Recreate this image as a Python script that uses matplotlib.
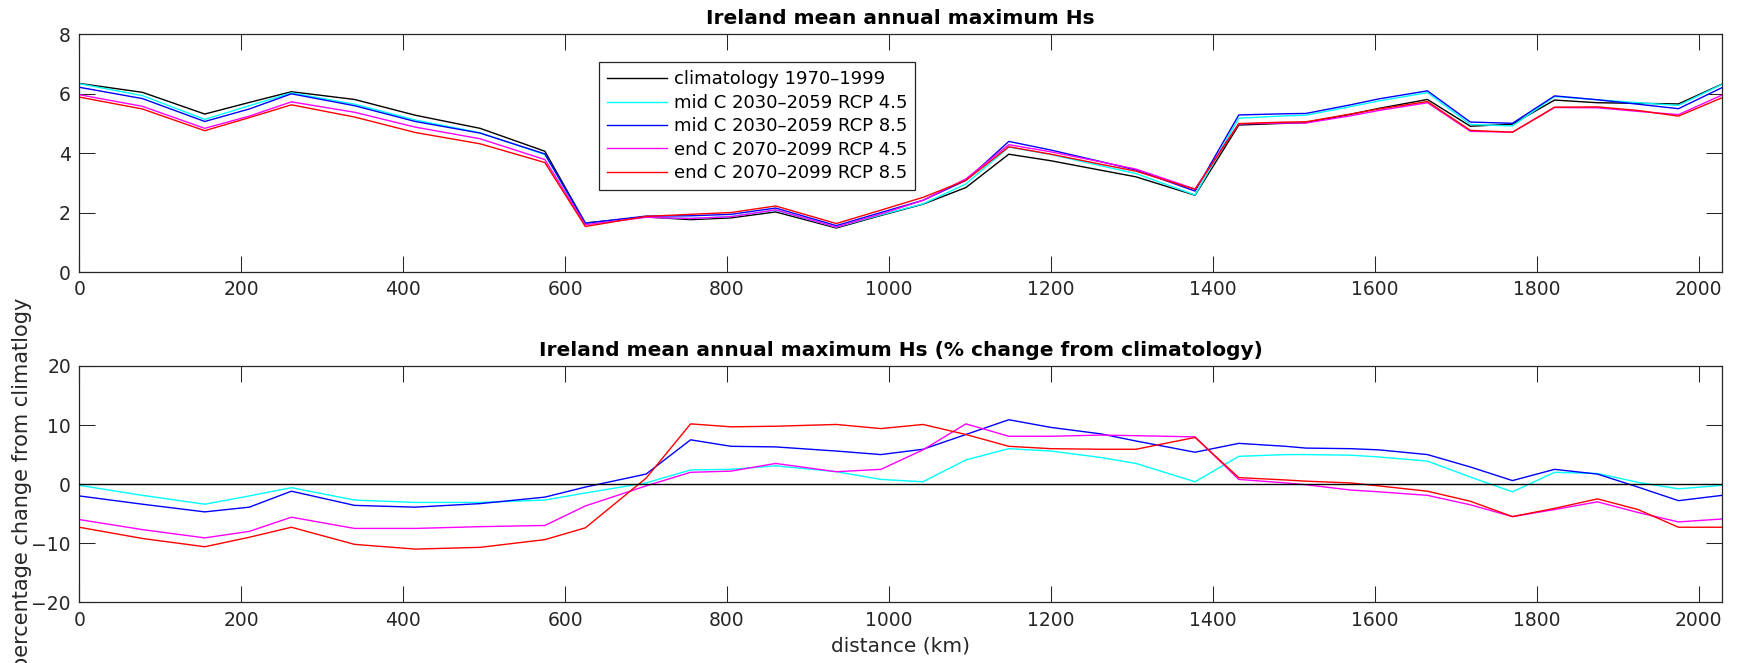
import matplotlib
matplotlib.use('Agg')
from matplotlib import pyplot as plt

# distance along the coast (km)
dist = [0, 78, 155, 210, 262, 340, 415, 495, 575, 625, 700, 755, 805, 860,
        935, 990, 1042, 1095, 1148, 1200, 1262, 1305, 1378, 1432, 1490, 1515,
        1570, 1605, 1665, 1718, 1770, 1822, 1875, 1925, 1975, 2029]

# mean annual maximum Hs (m)
hs_clim = [6.34, 6.04, 5.31, 5.70, 6.06, 5.80, 5.27, 4.83, 4.06, 1.65, 1.85, 1.76, 1.82, 2.02,
           1.48, 1.90, 2.28, 2.84, 3.96, 3.74, 3.42, 3.20, 2.58, 4.94, 5.00, 5.02,
           5.30, 5.50, 5.80, 4.90, 4.97, 5.78, 5.69, 5.67, 5.65, 6.32]
hs_mid45 = [6.33, 5.93, 5.13, 5.59, 6.02, 5.64, 5.11, 4.68, 3.95, 1.63, 1.85, 1.80, 1.87, 2.08,
            1.51, 1.92, 2.29, 2.96, 4.20, 3.95, 3.57, 3.31, 2.59, 5.17, 5.25, 5.27,
            5.56, 5.75, 6.03, 4.96, 4.91, 5.90, 5.79, 5.69, 5.60, 6.31]
hs_mid85 = [6.21, 5.83, 5.06, 5.48, 5.99, 5.59, 5.06, 4.67, 3.97, 1.64, 1.88, 1.89, 1.94, 2.15,
            1.56, 2.00, 2.41, 3.08, 4.39, 4.10, 3.71, 3.43, 2.72, 5.28, 5.32, 5.33,
            5.62, 5.82, 6.09, 5.04, 5.00, 5.92, 5.79, 5.64, 5.49, 6.20]
hs_end45 = [5.96, 5.57, 4.83, 5.24, 5.72, 5.37, 4.87, 4.48, 3.78, 1.59, 1.84, 1.80, 1.86, 2.09,
            1.51, 1.95, 2.41, 3.13, 4.28, 4.04, 3.70, 3.46, 2.79, 4.98, 5.01, 5.01,
            5.25, 5.43, 5.69, 4.73, 4.70, 5.53, 5.52, 5.40, 5.29, 5.95]
hs_end85 = [5.88, 5.48, 4.75, 5.19, 5.62, 5.21, 4.69, 4.31, 3.68, 1.53, 1.87, 1.94, 2.00, 2.22,
            1.63, 2.08, 2.51, 3.08, 4.21, 3.96, 3.62, 3.39, 2.78, 4.99, 5.04, 5.05,
            5.31, 5.48, 5.73, 4.76, 4.70, 5.54, 5.55, 5.43, 5.24, 5.86]

# % change from climatology
pc_mid45 = [-0.2, -1.9, -3.4, -2.0, -0.6, -2.7, -3.1, -3.1, -2.7, -1.5, 0.2, 2.4, 2.5, 3.1,
            2.1, 0.8, 0.4, 4.1, 6.0, 5.6, 4.5, 3.5, 0.4, 4.7, 5.0, 5.0,
            4.9, 4.6, 3.9, 1.2, -1.3, 2.0, 1.8, 0.3, -0.8, -0.2]
pc_mid85 = [-2.0, -3.4, -4.7, -3.9, -1.2, -3.6, -3.9, -3.3, -2.2, -0.5, 1.7, 7.5, 6.4, 6.3,
            5.6, 5.0, 5.9, 8.4, 10.9, 9.6, 8.5, 7.3, 5.4, 6.9, 6.4, 6.1,
            6.0, 5.8, 5.0, 2.9, 0.6, 2.5, 1.7, -0.5, -2.8, -1.9]
pc_end45 = [-6.0, -7.7, -9.1, -8.0, -5.6, -7.5, -7.5, -7.2, -7.0, -3.7, -0.3, 2.0, 2.2, 3.5,
            2.1, 2.5, 5.8, 10.2, 8.1, 8.1, 8.3, 8.2, 8.0, 0.8, 0.2, -0.1,
            -1.0, -1.3, -1.9, -3.5, -5.5, -4.3, -3.0, -4.8, -6.4, -5.9]
pc_end85 = [-7.3, -9.2, -10.6, -9.0, -7.3, -10.2, -11.0, -10.7, -9.4, -7.4, 1.0, 10.2, 9.7, 9.8,
            10.1, 9.4, 10.1, 8.4, 6.4, 6.0, 5.9, 5.9, 7.9, 1.1, 0.7, 0.5,
            0.2, -0.3, -1.2, -2.9, -5.5, -4.1, -2.5, -4.3, -7.3, -7.3]

labels = ['climatology 1970\u20131999', 'mid C 2030\u20132059 RCP 4.5',
          'mid C 2030\u20132059 RCP 8.5', 'end C 2070\u20132099 RCP 4.5',
          'end C 2070\u20132099 RCP 8.5']
colors = ['black', '#00ffff', '#0000ff', '#ff00ff', '#ff0000']

plt.rcParams['font.family'] = ['DejaVu Sans']
axcol = '#262626'

fig = plt.figure(figsize=(17.38, 6.63), dpi=100)
ax1 = fig.add_axes([0.0456, 0.5897, 0.9453, 0.359])
ax2 = fig.add_axes([0.0456, 0.0916, 0.9453, 0.3564])

for hs, lab, c in zip([hs_clim, hs_mid45, hs_mid85, hs_end45, hs_end85], labels, colors):
    ax1.plot(dist, hs, color=c, lw=1.0, label=lab)

for pc, c in zip([pc_mid45, pc_mid85, pc_end45, pc_end85], colors[1:]):
    ax2.plot(dist, pc, color=c, lw=1.0)
ax2.axhline(0, color='black', lw=1.0, zorder=5)

ax1.set_ylim(0, 8)
ax1.set_yticks([0, 2, 4, 6, 8])
ax2.set_ylim(-20, 20)
ax2.set_yticks([-20, -10, 0, 10, 20])

for ax in (ax1, ax2):
    ax.set_xlim(0, 2029)
    ax.set_xticks(range(0, 2001, 200))
    ax.tick_params(direction='in', top=True, right=True, length=11.8, width=0.75,
                   labelsize=13.5, color=axcol, labelcolor=axcol, pad=6)
    for s in ax.spines.values():
        s.set_color(axcol)
        s.set_linewidth(0.9)

ax1.set_title('Ireland mean annual maximum Hs', fontsize=14.5, fontweight='bold', pad=7)
ax2.set_title('Ireland mean annual maximum Hs (% change from climatology)',
              fontsize=14.5, fontweight='bold', pad=7)

ax2.set_xlabel('distance (km)', fontsize=14.5, color=axcol)
ax2.xaxis.set_label_coords(0.5, -0.145)
ax2.set_ylabel('percentage change from climatlogy', fontsize=15, color=axcol)
ax2.yaxis.set_label_coords(-0.029, 0.5)

leg = ax1.legend(loc='upper left', bbox_to_anchor=(0.3163, 0.881), borderaxespad=0,
                 fontsize=13, handlelength=3.3, handletextpad=0.4, labelspacing=0.3,
                 borderpad=0.45, fancybox=False, framealpha=1)
leg.get_frame().set_edgecolor(axcol)
leg.get_frame().set_linewidth(0.9)

plt.savefig('out.png', dpi=100)
